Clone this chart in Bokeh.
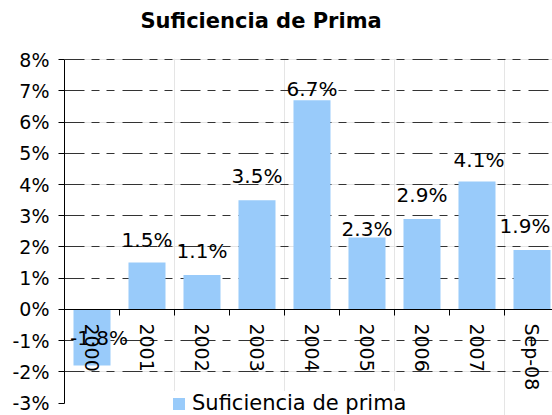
import math
from bokeh.plotting import figure
from bokeh.models import (Range1d, FixedTicker, Legend, LegendItem, ColumnDataSource,
                          LinearAxis, Grid, Title)
from bokeh.core.properties import value
from bokeh.embed import file_html
from bokeh.resources import INLINE

# ---- data ----
categories = ["2000", "2001", "2002", "2003", "2004", "2005", "2006", "2007", "Sep-08"]
values = [-1.8, 1.5, 1.1, 3.5, 6.7, 2.3, 2.9, 4.1, 1.9]
y_ticks = [-3, -2, -1, 0, 1, 2, 3, 4, 5, 6, 7, 8]
y_tick_labels = [f"{t}%" for t in y_ticks]
value_labels = [f"{v:.1f}%" for v in values]
title_text = "Suficiencia de Prima"
series_name = "Suficiencia de prima"

# label nudges (screen px) to mimic the original label placement
label_dx = [7, 0, 0, 0, 0, 0, 0, 2, -7]
label_dy = [-28, -23, -24, -24, -11, -9, -24, -21, -24]

FONT = "DejaVu Sans"

centers = [i + 0.5 for i in range(len(categories))]
boundaries = list(range(len(categories) + 1))

src = ColumnDataSource(dict(x=centers, top=values, label=value_labels,
                            dx=label_dx, dy=label_dy))

p = figure(width=552, height=415, output_backend="svg", toolbar_location=None,
           title=None,
           x_range=Range1d(0, 8.873), y_range=Range1d(-3.40, 8.04),
           x_axis_location=None, y_axis_location=None,
           min_border_left=64, min_border_right=0, min_border_top=58, min_border_bottom=0)
p.outline_line_color = None
p.background_fill_color = "white"
p.border_fill_color = "white"

# spacer between title and plot area (closest to the frame), then the title
spacer = Title(text=" ", text_font=FONT, text_font_size="12px", standoff=10,
               text_color="white")
p.add_layout(spacer, "above")
title = Title(text=title_text, align="left", offset=76, standoff=0,
              text_font=FONT, text_font_size="21px", text_font_style="bold",
              text_color="black")
p.add_layout(title, "above")

# grid
grid = Grid(dimension=1, ticker=FixedTicker(ticks=[t for t in y_ticks if t > -3]),
            grid_line_color="#333333", grid_line_width=1, grid_line_dash="20 7 8 7 8 8")
p.add_layout(grid)

# bars
bars = p.vbar(x="x", top="top", bottom=0, width=0.673, source=src,
              fill_color="#99CBFA", line_color=None)

# value labels
p.text(x="x", y="top", text="label", source=src, x_offset="dx", y_offset="dy",
       text_align="center", text_baseline="alphabetic",
       text_font=value(FONT), text_font_size="20px", text_color="black")

# y axis
yaxis = LinearAxis(ticker=FixedTicker(ticks=y_ticks),
                   major_label_overrides={t: l for t, l in zip(y_ticks, y_tick_labels)},
                   bounds=(-3, 8), axis_line_color="black", axis_line_width=1,
                   major_tick_out=6, major_tick_in=0, major_tick_line_color="black",
                   minor_tick_line_color=None, major_label_standoff=9,
                   major_label_text_font=FONT, major_label_text_font_size="19px",
                   major_label_text_color="black")
p.add_layout(yaxis, "left")

# x axis at zero
xaxis = LinearAxis(fixed_location=0,
                   ticker=FixedTicker(ticks=centers, minor_ticks=boundaries),
                   major_label_overrides={c: n for c, n in zip(centers, categories)},
                   axis_line_color="black", axis_line_width=1,
                   major_tick_line_color=None, major_tick_out=0, major_tick_in=0,
                   minor_tick_out=6, minor_tick_in=0, minor_tick_line_color="black",
                   major_label_orientation=-math.pi / 2, major_label_standoff=8,
                   major_label_text_font=FONT, major_label_text_font_size="19px",
                   major_label_text_color="black")
p.add_layout(xaxis, "below")

# legend
legend = Legend(items=[LegendItem(label=series_name, renderers=[bars])],
                location=(107, 0), orientation="horizontal",
                glyph_width=15, glyph_height=15, label_standoff=6,
                label_text_font=FONT, label_text_font_size="21px",
                label_text_color="black", padding=2, margin=0, spacing=0,
                border_line_color=None, background_fill_color="white",
                background_fill_alpha=1.0)
p.add_layout(legend)

open("out.html", "w").write(file_html(p, INLINE))
